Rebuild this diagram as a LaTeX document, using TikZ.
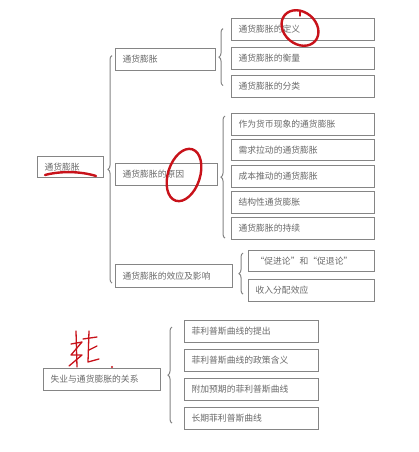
\documentclass[tikz,border=0pt]{standalone}
\usepackage{fontspec}
\newfontfamily\cjk{Noto Sans CJK SC}
\usetikzlibrary{decorations.pathreplacing,calc}
\definecolor{boxline}{HTML}{858585}
\definecolor{txt}{HTML}{6A6A6A}
\definecolor{ink}{HTML}{C8121A}
\tikzset{
  box/.style={draw=boxline, line width=1.1pt, inner xsep=7pt, inner ysep=0pt,
    minimum height=22pt, align=left, anchor=north west, text=txt,
    font=\cjk\fontsize{8.8}{10}\selectfont},
  bracel/.style={draw=boxline, line width=1pt, decorate,
    decoration={brace, amplitude=4pt}},
  redmark/.style={draw=ink, line width=2.4pt, line cap=round, line join=round},
  redthin/.style={draw=ink, line width=1.3pt, line cap=round, line join=round}
}
\begin{document}
\begin{tikzpicture}[x=1pt, y=-1pt]
\useasboundingbox[fill=white] (0,0) rectangle (418,452);

% level 0
\node[box, text width=52pt, minimum height=21pt] (root) at (37,156) {通货膨胀};
% level 1
\node[box, text width=86pt] (A) at (115,48) {通货膨胀};
\node[box, text width=88pt] (B) at (115,163) {通货膨胀的原因};
\node[box, text width=103pt, minimum height=23pt] (C) at (115,264) {通货膨胀的效应及影响};
% group A
\node[box, text width=129pt] (A1) at (231,18) {通货膨胀的定义};
\node[box, text width=129pt] (A2) at (231,47) {通货膨胀的衡量};
\node[box, text width=129pt] (A3) at (231,75) {通货膨胀的分类};
% group B
\node[box, text width=129pt] (B1) at (231,113) {作为货币现象的通货膨胀};
\node[box, text width=129pt, minimum height=21pt] (B2) at (231,139) {需求拉动的通货膨胀};
\node[box, text width=129pt] (B3) at (231,165) {成本推动的通货膨胀};
\node[box, text width=129pt] (B4) at (231,191) {结构性通货膨胀};
\node[box, text width=129pt] (B5) at (231,217) {通货膨胀的持续};
% group C
\node[box, text width=112pt, minimum height=21pt] (C1) at (248,250) {“促进论”和“促退论”};
\node[box, text width=112pt] (C2) at (248,279) {收入分配效应};
% bottom
\node[box, text width=103pt] (D) at (43,368) {失业与通货膨胀的关系};
\node[box, text width=120pt] (D1) at (184,320) {菲利普斯曲线的提出};
\node[box, text width=120pt] (D2) at (184,349) {菲利普斯曲线的政策含义};
\node[box, text width=120pt] (D3) at (184,378) {附加预期的菲利普斯曲线};
\node[box, text width=120pt] (D4) at (184,407) {长期菲利普斯曲线};

% braces (drawn bottom to top so the tip points left)
\draw[bracel] ($(C.west)+(-3,7)$) -- ($(A.west)+(-3,-4)$);
\draw[bracel] ($(A3.west)+(-8,-1)$) -- ($(A1.west)+(-8,-1)$);
\draw[bracel] ($(B5.south west)+(-6,-2)$) -- ($(B1.north west)+(-6,3)$);
\draw[bracel] ($(C2.south west)+(-5,-8)$) -- ($(C1.north west)+(-5,3)$);
\draw[bracel] ($(D4.south west)+(-12,-7)$) -- ($(D1.north west)+(-12,7)$);

% red handwritten marks
\draw[redmark] (45,175) .. controls (60,171) and (80,171) .. (96,176);
\draw[redmark, rotate around={-40:(300,28)}] (300,28) ellipse (20pt and 16pt);
\draw[redthin] (300,11) -- (300,16);
\draw[redmark, rotate around={-18:(184,175)}] (184,175) ellipse (16pt and 27pt);
% handwritten character
\draw[redthin] (76,331) -- (77,367);
\draw[redthin] (71,344) -- (82,342) -- (71,355) -- (82,355) -- (69,366);
\draw[redthin] (89,331) -- (88,362) -- (99,359);
\draw[redthin] (83,339) -- (97,337);
\draw[redthin] (89,350) -- (97,346);
\fill[ink] (112,367) circle (1.1pt);
\end{tikzpicture}
\end{document}
